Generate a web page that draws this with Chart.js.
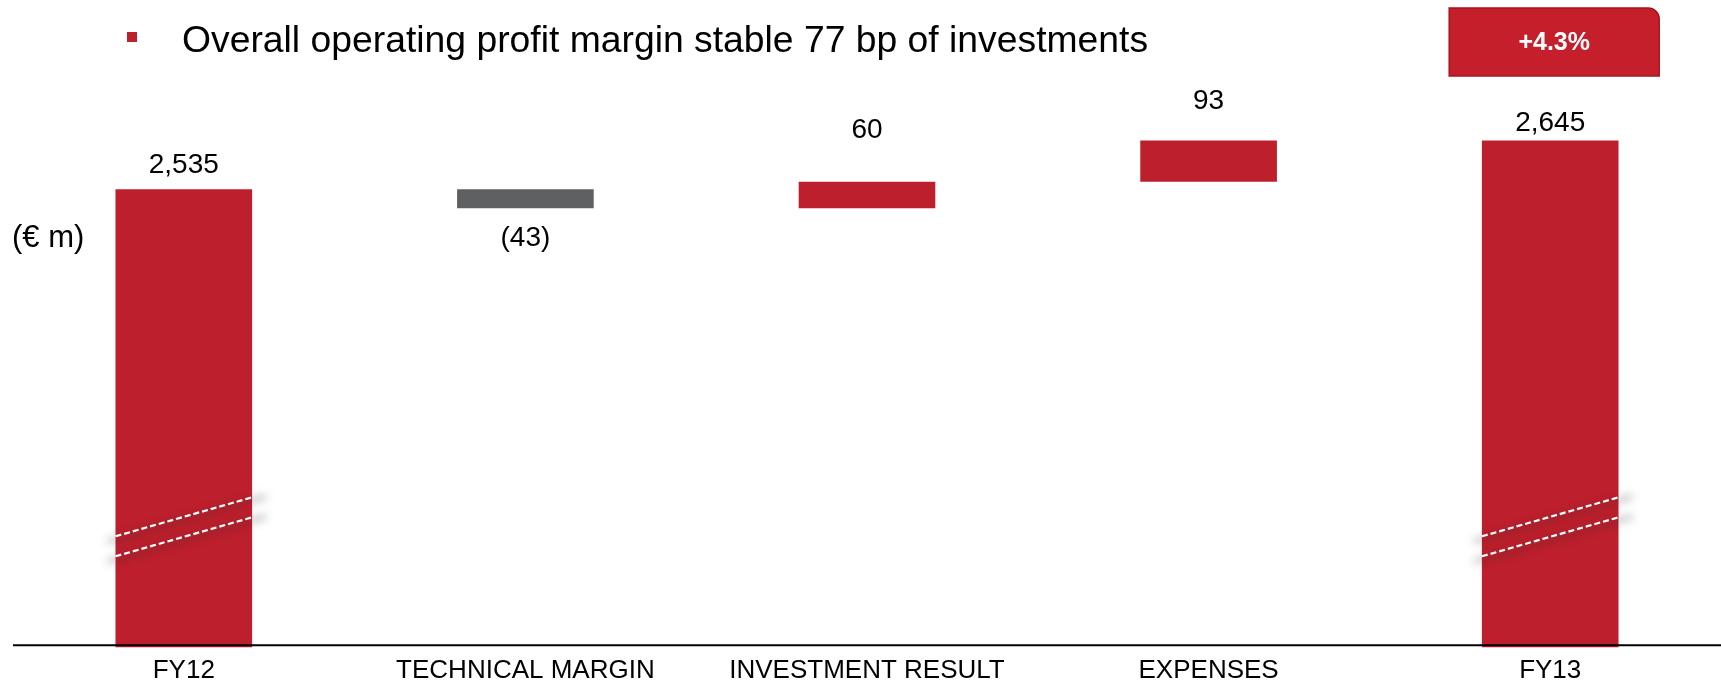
<!DOCTYPE html>
<html>
<head>
<meta charset="utf-8">
<script src="https://cdn.jsdelivr.net/npm/chart.js@4.4.1/dist/chart.umd.min.js"></script>
<style>
    html, body { margin: 0; padding: 0; background: #ffffff; overflow: hidden; }
    #wrap { width: 1721px; height: 681px; }
</style>
</head>
<body>
<div id="wrap"><canvas id="marginChart" width="1721" height="681"></canvas></div>
<script>
// Операционная прибыль: FY12 -> FY13, € m
const categories = ["FY12", "TECHNICAL MARGIN", "INVESTMENT RESULT", "EXPENSES", "FY13"];
const startTotal = 2535;
const deltas = [-43, 60, 93];
const endTotal = 2645;
const headline = "Overall operating profit margin stable 77 bp of investments";
const unitLabel = "(€ m)";

const RED = "#be1f2c";
const GREY = "#5f6062";
const FONT = "'Liberation Sans', Arial, sans-serif";

// Плавающие столбцы водопада из итогов и изменений
function buildWaterfall() {
    const bars = [startTotal];
    const colors = [RED];
    const texts = [startTotal.toLocaleString("en-US")];
    let level = startTotal;
    deltas.forEach(d => {
        const next = level + d;
        bars.push([Math.min(level, next), Math.max(level, next)]);
        colors.push(d < 0 ? GREY : RED);
        texts.push(d < 0 ? `(${Math.abs(d)})` : String(d));
        level = next;
    });
    bars.push(endTotal);
    colors.push(RED);
    texts.push(endTotal.toLocaleString("en-US"));
    return { bars, colors, texts };
}

const { bars, colors, texts } = buildWaterfall();
const growth = ((endTotal / startTotal - 1) * 100).toFixed(1);

// Заголовок, подписи, разрывы оси и плашка с ростом
const decorPlugin = {
    id: "decor",
    afterDatasetsDraw(chart, args, opts) {
        const ctx = chart.ctx;
        const meta = chart.getDatasetMeta(0);
        const area = chart.chartArea;

        // разрывы на крайних столбцах
        [0, meta.data.length - 1].forEach(i => {
            const bar = meta.data[i];
            const left = bar.x - bar.width / 2;
            const right = bar.x + bar.width / 2;
            const yl = area.bottom - 111;
            const yr = area.bottom - 150;
            const slope = (yr - yl) / (right - left);
            [0, 20].forEach(off => {
                ctx.save();
                ctx.filter = "blur(4px)";
                ctx.strokeStyle = "rgba(40,40,40,0.3)";
                ctx.lineWidth = 5;
                ctx.beginPath();
                ctx.moveTo(left - 8, yl + off + 3 - 8 * slope);
                ctx.lineTo(right + 14, yr + off + 3 + 14 * slope);
                ctx.stroke();
                ctx.restore();

                ctx.save();
                ctx.strokeStyle = "#ffffff";
                ctx.lineWidth = 2.2;
                ctx.setLineDash([6, 3]);
                ctx.beginPath();
                ctx.moveTo(left, yl + off);
                ctx.lineTo(right, yr + off);
                ctx.stroke();
                ctx.restore();
            });
        });

        // ось X поверх столбцов
        ctx.save();
        ctx.strokeStyle = "#000000";
        ctx.lineWidth = 2;
        ctx.beginPath();
        ctx.moveTo(area.left, area.bottom - 2);
        ctx.lineTo(chart.width, area.bottom - 2);
        ctx.stroke();
        ctx.restore();

        // значения над/под столбцами
        ctx.save();
        ctx.fillStyle = "#000000";
        ctx.font = `28px ${FONT}`;
        ctx.textAlign = "center";
        ctx.textBaseline = "alphabetic";
        meta.data.forEach((bar, i) => {
            const top = Math.min(bar.y, bar.base);
            const bottom = Math.max(bar.y, bar.base);
            const negative = i > 0 && i <= deltas.length && deltas[i - 1] < 0;
            const y = negative ? bottom + opts.labelGap[i] : top - opts.labelGap[i];
            ctx.fillText(texts[i], bar.x, y);
        });
        ctx.restore();

        // заголовок с маркером
        ctx.save();
        ctx.fillStyle = RED;
        ctx.fillRect(127, 32, 10, 10);
        ctx.fillStyle = "#000000";
        ctx.font = `37.3px ${FONT}`;
        ctx.textAlign = "left";
        ctx.fillText(headline, 182, 52);
        ctx.font = `31px ${FONT}`;
        ctx.fillText(unitLabel, 12, 247);
        ctx.restore();

        // плашка роста над последним столбцом
        const last = meta.data[meta.data.length - 1];
        const bx = last.x - 101, by = 8, bw = 210, bh = 68, r = 11;
        ctx.save();
        ctx.fillStyle = "#c41f2a";
        ctx.strokeStyle = "#a8141f";
        ctx.lineWidth = 1.5;
        ctx.beginPath();
        ctx.moveTo(bx, by);
        ctx.lineTo(bx + bw - r, by);
        ctx.arcTo(bx + bw, by, bx + bw, by + r, r);
        ctx.lineTo(bx + bw, by + bh);
        ctx.lineTo(bx, by + bh);
        ctx.closePath();
        ctx.fill();
        ctx.stroke();
        ctx.fillStyle = "#ffffff";
        ctx.font = `bold 25px ${FONT}`;
        ctx.textAlign = "center";
        ctx.textBaseline = "middle";
        ctx.fillText(`+${growth}%`, bx + bw / 2, by + bh / 2 + 1);
        ctx.restore();
    }
};

const ctx = document.getElementById("marginChart").getContext("2d");
new Chart(ctx, {
    type: "bar",
    data: {
        labels: categories,
        datasets: [{
            data: bars,
            backgroundColor: colors,
            borderWidth: 0,
            barPercentage: 0.4,
            categoryPercentage: 1.0
        }]
    },
    options: {
        responsive: false,
        animation: false,
        devicePixelRatio: 1,
        layout: { padding: { left: 13, right: 0, top: 60, bottom: -13.5 } },
        scales: {
            x: {
                grid: { display: false, drawTicks: false },
                border: { display: false },
                ticks: {
                    color: "#000000",
                    padding: 8,
                    maxRotation: 0,
                    autoSkip: false,
                    font: { family: FONT, size: 26, lineHeight: 1.2 }
                }
            },
            y: { display: false, min: 1500, max: 2827 }
        },
        plugins: {
            legend: { display: false },
            tooltip: { enabled: false },
            decor: { labelGap: [16, 38, 44, 32, 10] }
        }
    },
    plugins: [decorPlugin]
});
</script>
</body>
</html>
